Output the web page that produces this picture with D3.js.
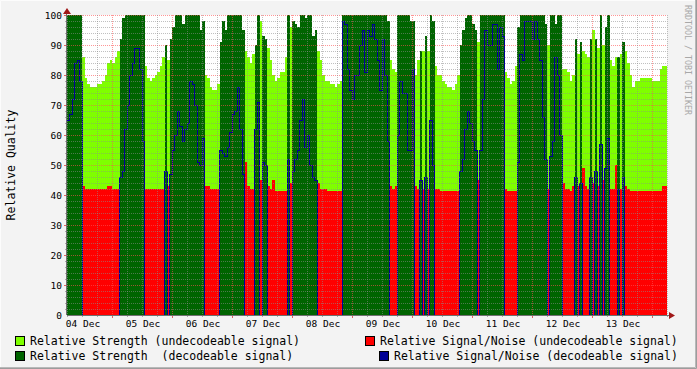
<!DOCTYPE html>
<html>
<head>
<meta charset="utf-8">
<script src="https://cdn.jsdelivr.net/npm/d3@7"></script>
<style>
  body { margin: 0; background: #f3f3f3; }
  svg { display: block; }
  text { font-family: "DejaVu Sans Mono", monospace; }
</style>
</head>
<body>
<svg id="chart" width="697" height="369"></svg>
<script>

// hourly samples, first one at 04 Dec 06:00 (UTC), 240 hours
var startTime = Date.UTC(2012, 11, 4, 6);

// 1 = signal could be decoded during that hour
var decodeable = [
  1,1,1,1,1,1, 0,0,0,0,0,0,0,0,0,0,0,0,0,0,0, 1,1,1,
  1,1,1,1,1,1,1, 0,0,0,0,0,0,0,0, 1, 0, 1,1,1,1,1,1,1,
  1,1,1,1,1,1,1, 0,0,0,0,0,0, 1,1,1,1,1,1,1,1,1,1, 0,
  0,0,0, 1,1, 0, 1,1, 0,0,0,0,0,0,0,0, 1, 0, 1,1,1,1,1,1,
  1,1,1,1, 0,0,0,0,0,0,0,0,0,0, 1,1,1,1,1,1,1,1,1,1,
  1,1,1,1,1,1,1,1,1, 0,0,0, 1,1,1,1,1,1,1, 0,0,1,0,1,
  0,1,1,0,0, 0,0,0,0,0,0,0,0, 1,1,1,1,1,1,1, 0, 1,1,1,
  1,1,1,1,1,1,1, 0,0,0,0,0, 1,1,1,1,1,1,1,1,1,1,1,1,
  0, 1,1,1,1,1, 0,0,0,0,0, 1,0,1,0,0,0,1,0,1,0,1,0,1,
  1,0,0,0,1,0,1, 0,0,0,0,0,0,0,0,0,0,0,0,0,0,0,0,0
];

// relative strength (%)
var strength = [
  100,100,100,100,100,100, 86,79,77,76,76,76,77,77,78,80,84,85,84,86,88, 92,99,100,
  100,100,100,100,100,100,100, 83,79,78,79,80,81,83,86, 90, 85, 92,96,100,100,100,97,100,
  100,100,100,100,100,95,98, 80,79,76,75,75,77, 91,98,95,100,100,100,100,100,100,95, 88,
  86,84,87, 90,100, 98, 93,92, 89,85,80,78,79,81,81,86, 100, 96, 98,97,96,100,100,99,
  100,100,93,95, 88,85,80,78,78,77,77,76,77,78, 100,100,100,100,100,100,100,100,100,100,
  100,100,100,100,100,100,100,100,98, 85,82,81, 100,100,100,100,100,98,98, 80,85,88,88,93,
  88,100,98,83,80, 80,78,77,76,76,75,77,80, 90,95,99,100,100,97,95, 91, 100,100,100,
  100,100,100,100,100,100,100, 81,79,77,78,83, 96,100,100,100,100,100,100,100,100,100,100,97,
  90, 100,100,97,100,100, 82,82,81,78,80, 92,87,91,88,87,86,92,95,92,89,100,90,96,
  100,85,83,86,86,87,91, 88,84,80,76,78,78,79,79,79,79,79,78,78,78,82,83,83
];

// relative signal/noise (%)
var snr = [
  65,67,72,84,85,78, 43,42,42,42,42,42,42,42,42,42,43,43,42,42,42, 46,48,62,
  70,80,84,89,89,82,58, 42,42,42,42,42,42,42,42, 48, 43, 47,55,60,68,63,58,62,
  64,78,77,70,51,50,59, 43,43,42,42,42,42, 55,54,53,56,61,67,68,76,62,47, 51,
  43,42,42, 62,71, 45, 51,50, 43,42,45,41.5,41.5,41.5,41.5,41.5, 52, 44, 48,52,55,65,72,56,
  60,50,46,45, 44,42,42,42,41.5,41.5,41.5,41.5,41.5,41.5, 98,97,82,75,72,80,80,90,95,81,
  95,93,97,92,85,75,92,80,58, 43,42,43, 60,78,74,74,55,55,82, 43,42,45,42,46,
  42,65,50,42,42, 41.5,41.5,41.5,41.5,41.5,41.5,41.5,41.5, 48,52,62,68,64,58,55, 45, 55,72,95,
  90,90,97,97,82,96,93, 42,41.5,41.5,41.5,41.5, 51,87,85,98,98,98,92,98,92,85,66,52,
  42, 53,58,86,80,60, 44,42,42,41.5,43, 46,43,44,49,43,42,46,44,48,43,57,45,49,
  59,42,42,50,42,42,46, 43,42,41.5, 41.5,41.5,41.5,41.5,41.5,41.5,41.5,41.5,41.5,41.5,41.5,41.5, 43,43
];

var yTicks = [0, 10, 20, 30, 40, 50, 60, 70, 80, 90, 100];

var legendItems = [
  ["#7fff00", "Relative Strength (undecodeable signal)"],
  ["#006400", "Relative Strength  (decodeable signal)"],
  ["#ff0000", "Relative Signal/Noise (undecodeable signal)"],
  ["#000094", "Relative Signal/Noise (decodeable signal)"]
];

var hour = 3600 * 1000;
var svg = d3.select("#chart");

var x = d3.scaleTime()
    .domain([new Date(startTime), new Date(startTime + 240 * hour)])
    .range([67, 667]);
var y = d3.scaleLinear().domain([0, 100]).range([315, 15]);

// one record per hour, plus a closing one so the last step gets its width
var rows = d3.range(241).map(function(i) {
    var j = Math.min(i, 239);
    return { t: new Date(startTime + i * hour), dec: decodeable[j], str: strength[j], snr: snr[j] };
});

// frame
svg.append("rect").attr("width", 697).attr("height", 369).style("fill", "#f3f3f3");
svg.append("path").attr("d", "M0,368.5H696.5V0").style("fill", "none").style("stroke", "#9c9c9c").style("stroke-width", 1);
svg.append("path").attr("d", "M0,367.5H695.5V0").style("fill", "none").style("stroke", "#b8b8b8").style("stroke-width", 1);
svg.append("path").attr("d", "M0.5,367V0.5H695").style("fill", "none").style("stroke", "#fcfcfc").style("stroke-width", 1);
svg.append("rect").attr("x", 67).attr("y", 15).attr("width", 600).attr("height", 300).style("fill", "#fff");

function stepArea(fn) {
    return d3.area().curve(d3.curveStepAfter)
        .x(function(d) { return x(d.t); })
        .y0(y(0))
        .y1(function(d) { return y(fn(d)); });
}

var plot = svg.append("g").attr("shape-rendering", "crispEdges");

plot.append("path").datum(rows)
    .attr("d", stepArea(function(d) { return d.dec ? 0 : d.str; }))
    .style("fill", legendItems[0][0]);
plot.append("path").datum(rows)
    .attr("d", stepArea(function(d) { return d.dec ? d.str : 0; }))
    .style("fill", legendItems[1][0]);
plot.append("path").datum(rows)
    .attr("d", stepArea(function(d) { return d.dec ? 0 : d.snr; }))
    .style("fill", legendItems[2][0]);
plot.append("path").datum(rows)
    .attr("d", d3.line().curve(d3.curveStepAfter)
        .x(function(d) { return x(d.t); })
        .y(function(d) { return y(d.dec ? d.snr : 0); }))
    .style("fill", "none")
    .style("stroke", legendItems[3][0])
    .style("stroke-width", 1);

// grid, drawn over the data like rrdtool does
var grid = svg.append("g").attr("shape-rendering", "crispEdges");
var minorY = d3.range(2, 101, 2);
grid.selectAll(".hgrid").data(minorY).enter().append("line")
    .attr("x1", 67).attr("x2", 667)
    .attr("y1", function(d) { return y(d) + 0.5; })
    .attr("y2", function(d) { return y(d) + 0.5; })
    .style("stroke", function(d) { return d % 10 ? "rgba(140,140,140,0.55)" : "rgba(255,80,80,0.6)"; })
    .style("stroke-dasharray", "1,1");

var sixHours = x.ticks(d3.utcHour.every(6));
grid.selectAll(".vgrid").data(sixHours).enter().append("line")
    .attr("x1", function(d) { return Math.round(x(d)) + 0.5; })
    .attr("x2", function(d) { return Math.round(x(d)) + 0.5; })
    .attr("y1", 15).attr("y2", 315)
    .style("stroke", function(d) { return d.getUTCHours() ? "rgba(140,140,140,0.55)" : "rgba(255,80,80,0.6)"; })
    .style("stroke-dasharray", "1,1");

// tick marks
grid.selectAll(".xtick").data(sixHours).enter().append("line")
    .attr("x1", function(d) { return Math.round(x(d)) + 0.5; })
    .attr("x2", function(d) { return Math.round(x(d)) + 0.5; })
    .attr("y1", 315).attr("y2", function(d) { return d.getUTCHours() ? 317 : 318; })
    .style("stroke", function(d) { return d.getUTCHours() ? "#aaa" : "#e06060"; });
grid.selectAll(".ytick").data(minorY).enter().append("line")
    .attr("x1", function(d) { return d % 10 ? 65 : 64; }).attr("x2", 67)
    .attr("y1", function(d) { return y(d) + 0.5; })
    .attr("y2", function(d) { return y(d) + 0.5; })
    .style("stroke", function(d) { return d % 10 ? "#aaa" : "#e06060"; });

// axes
grid.append("line").attr("x1", 66.5).attr("x2", 66.5).attr("y1", 315).attr("y2", 12).style("stroke", "#707070");
grid.append("line").attr("x1", 67).attr("x2", 670).attr("y1", 315.5).attr("y2", 315.5).style("stroke", "#707070");
svg.append("path").attr("d", "M63,14L67,8L71,14Z").style("fill", "#a01818");
svg.append("path").attr("d", "M669,312L675,315.5L669,319Z").style("fill", "#a01818");

// tick labels
svg.selectAll(".ylab").data(yTicks).enter().append("text")
    .attr("x", 62).attr("y", function(d) { return y(d) + 3.5; })
    .attr("text-anchor", "end")
    .style("font-size", "9.5px")
    .text(function(d) { return d; });

var days = x.ticks(d3.utcDay.every(1));
var dayLabels = [new Date(startTime - 6 * hour)].concat(days).slice(0, 10);
svg.selectAll(".xlab").data(dayLabels).enter().append("text")
    .attr("x", function(d) { return x(new Date(+d + 12 * hour)) + 1; })
    .attr("y", 327)
    .attr("text-anchor", "middle")
    .style("font-size", "9.5px")
    .text(d3.utcFormat("%d %b"));

svg.append("text")
    .attr("transform", "translate(15,165) rotate(-90)")
    .attr("text-anchor", "middle")
    .style("font-size", "11.5px")
    .text("Relative Quality");

svg.append("text")
    .attr("transform", "translate(685,60) rotate(90)")
    .attr("text-anchor", "middle")
    .style("font-size", "8.3px")
    .style("fill", "#a8a8a8")
    .text("RRDTOOL / TOBI OETIKER");

// legend
var legendPos = [[15, 336], [15, 351], [365, 336], [379, 351]];
var legend = svg.selectAll(".legend").data(legendItems).enter().append("g")
    .attr("transform", function(d, i) { return "translate(" + legendPos[i][0] + "," + legendPos[i][1] + ")"; });
legend.append("rect")
    .attr("x", 0.5).attr("y", 0.5).attr("width", 9).attr("height", 9)
    .style("fill", function(d) { return d[0]; })
    .style("stroke", "#000").style("stroke-width", 1);
legend.append("text")
    .attr("x", 15).attr("y", 9)
    .style("font-size", "11.5px")
    .style("white-space", "pre")
    .attr("xml:space", "preserve")
    .text(function(d) { return d[1]; });

</script>
</body>
</html>
